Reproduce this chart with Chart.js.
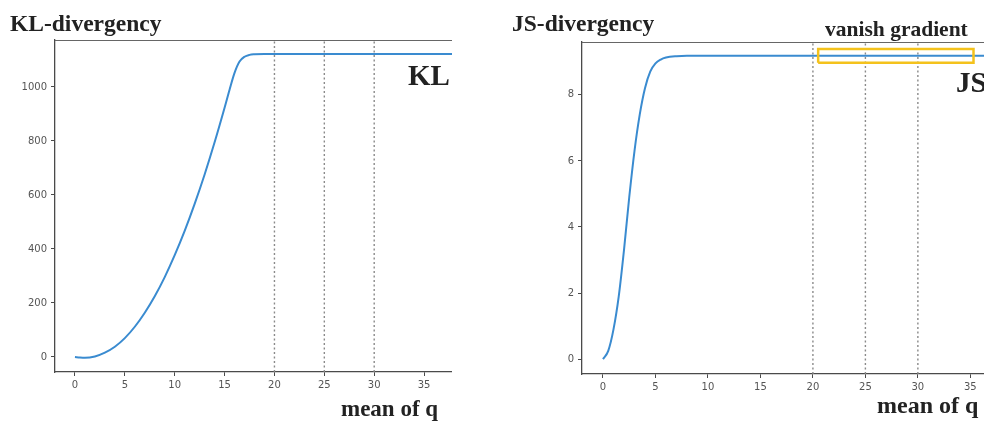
<!DOCTYPE html>
<html>
<head>
<meta charset="utf-8">
<script src="https://cdn.jsdelivr.net/npm/chart.js@4/dist/chart.umd.min.js"></script>
<style>
  html, body { margin: 0; padding: 0; background: #fff; }
  body { width: 984px; height: 421px; position: relative; overflow: hidden; }
  canvas { position: absolute; }
  .t { position: absolute; font-family: "Liberation Serif", "Times New Roman", serif; font-weight: bold; color: #222; white-space: nowrap; line-height: 1; }
</style>
</head>
<body>
<canvas id="kl" width="452" height="402" style="left:0px;top:0px;width:452px;height:402px"></canvas>
<canvas id="js" width="464" height="404" style="left:520px;top:0px;width:464px;height:404px"></canvas>

<div class="t" style="left:10px;top:12px;font-size:23.5px;">KL-divergency</div>
<div class="t" style="left:512px;top:12px;font-size:23.5px;">JS-divergency</div>
<div class="t" style="left:408px;top:61px;font-size:29px;">KL</div>
<div class="t" style="left:956px;top:68px;font-size:29px;">JS</div>
<div class="t" style="left:825px;top:19px;font-size:21.5px;">vanish gradient</div>
<div class="t" style="left:341px;top:397px;font-size:23px;">mean of q</div>
<div class="t" style="left:877px;top:393px;font-size:24px;">mean of q</div>

<script>
// ---- data ----
const klX = [0, 0.5, 1, 2, 3, 4, 5, 6, 7, 8, 9, 10, 11, 12, 13, 14, 15, 15.5, 16, 16.5, 17, 17.5, 18, 19, 22, 26, 30, 34, 38];
const klY = [0, -2, -3, 2, 16, 38, 70, 112, 164, 225, 296, 377, 467, 567, 676, 795, 923, 990, 1052, 1094, 1112, 1119, 1121, 1122, 1122, 1122, 1122, 1122, 1122];

const jsX = [0, 0.5, 1, 1.5, 2, 2.5, 3, 3.5, 4, 4.5, 5, 5.5, 6, 7, 8, 10, 15, 20, 25, 30, 37];
const jsY = [0, 0.25, 0.9, 1.9, 3.3, 4.9, 6.3, 7.4, 8.2, 8.7, 8.95, 9.07, 9.13, 9.17, 9.18, 9.18, 9.18, 9.18, 9.18, 9.18, 9.18];

const markerX = [20, 25, 30];            // dotted vertical reference lines
const vanishBoxX = [20.5, 35.3];         // highlighted "vanish gradient" region
const vanishBoxY = [8.97, 9.39];

const xTicks = [0, 5, 10, 15, 20, 25, 30, 35];
const klYTicks = [0, 200, 400, 600, 800, 1000];
const jsYTicks = [0, 2, 4, 6, 8];

const klXRange = [-2, 37.8];
const klYRange = [-55.6, 1174];
const jsXRange = [-2, 36.3];
const jsYRange = [-0.45, 9.6];

// ---- styling ----
const lineColor = '#3a8bd0';
const axisColor = '#4a4a4a';
const tickFont = { family: 'DejaVu Sans', size: 10 };
const tickColor = '#555';

const topSpine = {
  id: 'topSpine',
  afterDraw(chart) {
    const { ctx, chartArea } = chart;
    ctx.save();
    ctx.strokeStyle = '#666';
    ctx.lineWidth = 1.2;
    ctx.beginPath();
    ctx.moveTo(chartArea.left, chartArea.top + 0.5);
    ctx.lineTo(chartArea.right, chartArea.top + 0.5);
    ctx.stroke();
    ctx.restore();
  }
};

function pts(xs, ys) { return xs.map((x, i) => ({ x: x, y: ys[i] })); }

function markerSets(yRange) {
  return markerX.map(x => ({
    data: [{ x: x, y: yRange[0] }, { x: x, y: yRange[1] }],
    borderColor: '#8a8a8a',
    borderWidth: 1.4,
    borderDash: [2, 2.5],
    pointRadius: 0,
    showLine: true,
    order: 2
  }));
}

function makeChart(id, xs, ys, xRange, yRange, yTicks, yAxisWidth, padTop, extra) {
  const datasets = [
    {
      data: pts(xs, ys),
      borderColor: lineColor,
      borderWidth: 2,
      pointRadius: 0,
      showLine: true,
      cubicInterpolationMode: 'monotone',
      order: 1
    },
    ...markerSets(yRange),
    ...(extra || [])
  ];
  return new Chart(document.getElementById(id), {
    type: 'scatter',
    data: { datasets },
    options: {
      responsive: false,
      animation: false,
      devicePixelRatio: 1,
      layout: { padding: { left: 0, right: 0, top: padTop, bottom: 0 } },
      plugins: { legend: { display: false }, tooltip: { enabled: false } },
      scales: {
        x: {
          type: 'linear',
          min: xRange[0], max: xRange[1],
          grid: { display: true, drawOnChartArea: false, drawTicks: true, tickLength: 4, color: axisColor, lineWidth: 1 },
          border: { display: true, color: axisColor, width: 1.3 },
          ticks: { font: tickFont, color: tickColor, padding: 3, maxRotation: 0, autoSkip: false },
          afterBuildTicks(s) { s.ticks = xTicks.map(v => ({ value: v })); },
          afterFit(s) { s.height = 30; s.paddingLeft = 0; s.paddingRight = 0; }
        },
        y: {
          type: 'linear',
          min: yRange[0], max: yRange[1],
          grid: { display: true, drawOnChartArea: false, drawTicks: true, tickLength: 4, color: axisColor, lineWidth: 1 },
          border: { display: true, color: axisColor, width: 1.3 },
          ticks: { font: tickFont, color: tickColor, padding: 4, autoSkip: false, callback: v => String(v) },
          afterBuildTicks(s) { s.ticks = yTicks.map(v => ({ value: v })); },
          afterFit(s) { s.width = yAxisWidth; s.paddingTop = 0; s.paddingBottom = 0; }
        }
      }
    },
    plugins: [topSpine]
  });
}

makeChart('kl', klX, klY, klXRange, klYRange, klYTicks, 55, 40);

const boxSet = {
  data: [
    { x: vanishBoxX[0], y: vanishBoxY[0] },
    { x: vanishBoxX[1], y: vanishBoxY[0] },
    { x: vanishBoxX[1], y: vanishBoxY[1] },
    { x: vanishBoxX[0], y: vanishBoxY[1] },
    { x: vanishBoxX[0], y: vanishBoxY[0] }
  ],
  borderColor: '#f4c21c',
  borderWidth: 2.5,
  pointRadius: 0,
  showLine: true,
  tension: 0,
  order: 0
};
makeChart('js', jsX, jsY, jsXRange, jsYRange, jsYTicks, 62, 42, [boxSet]);
</script>
</body>
</html>
